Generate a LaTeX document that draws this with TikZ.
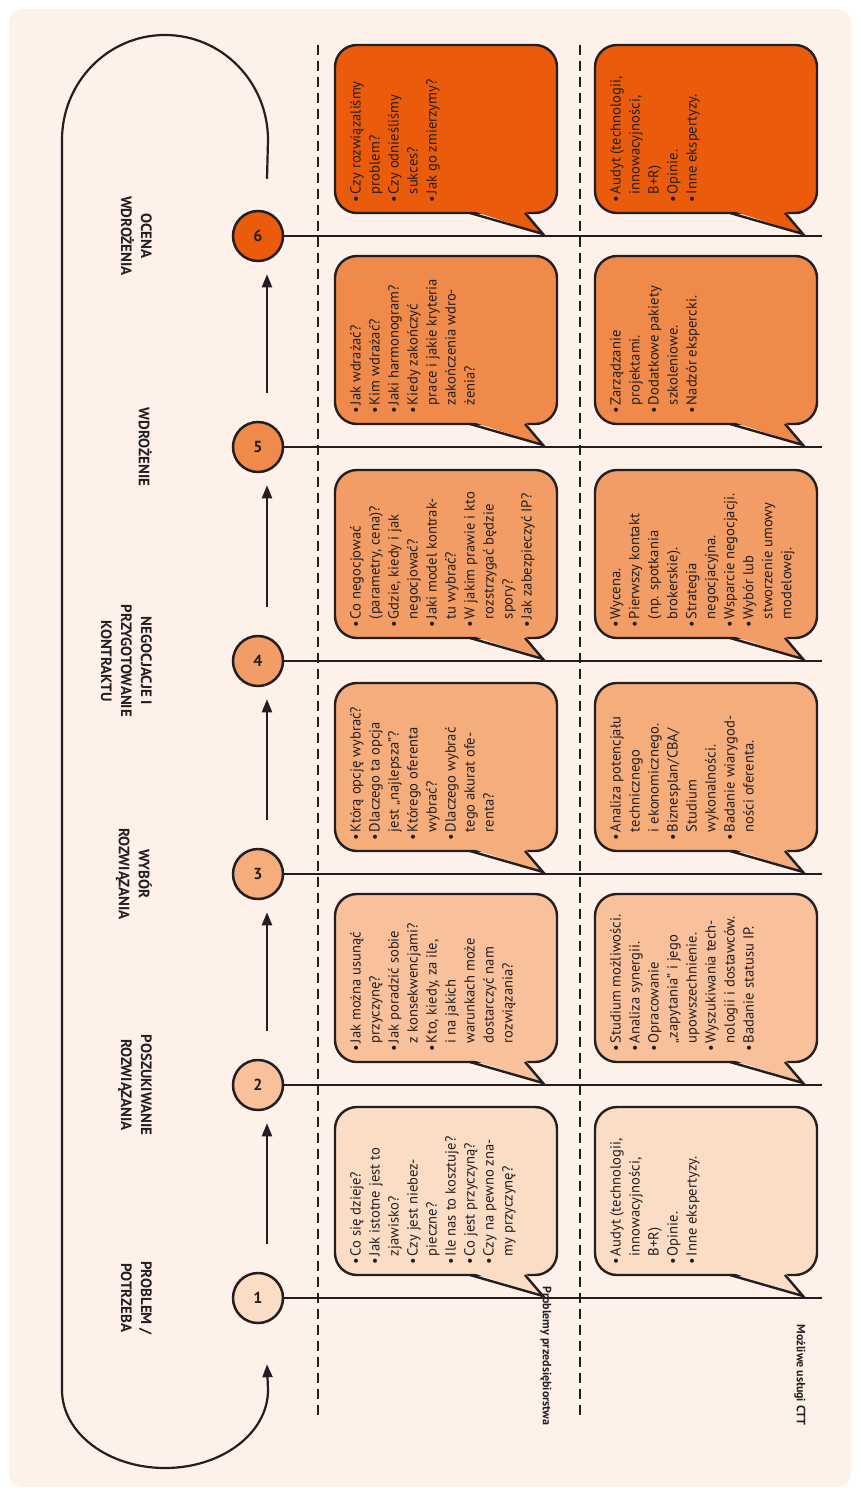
\documentclass[tikz,border=0pt]{standalone}
\usepackage{fontspec}
\setmainfont{PT Sans}
\usetikzlibrary{arrows.meta,calc}
\definecolor{ink}{HTML}{231F20}
\definecolor{cream}{HTML}{FDF1EA}
\definecolor{oa}{HTML}{FBDCC5}
\definecolor{ob}{HTML}{F8C19B}
\definecolor{oc}{HTML}{F5AE7B}
\definecolor{od}{HTML}{F29D65}
\definecolor{oe}{HTML}{EF8A4B}
\definecolor{of}{HTML}{EA5B0C}
\newcommand\bi{\makebox[0.6em][l]{•}}
\newcommand\ci{\hspace*{0.6em}}
\newcommand\mybubble[5]{%
  \pgfmathsetmacro\bubT{#4-191}\pgfmathsetmacro\bubB{#4-23}%
  \pgfmathsetmacro\bubR{#3+222}%
  \pgfmathsetmacro\tailA{#3+135}\pgfmathsetmacro\tailB{#3+190}%
  \pgfmathsetmacro\tailC{#3+208}\pgfmathsetmacro\tailY{#4-2}%
  \draw[bubline, fill=#2, rounded corners=22] (#3,\bubT) rectangle (\bubR,\bubB);
  \fill[#2] (\tailA,\bubB-3) -- (\tailC,\tailY) -- (\tailB,\bubB-3) -- cycle;
  \draw[bubline, line join=miter] (\tailA,\bubB) -- (\tailC,\tailY) -- (\tailB,\bubB);
  \node[btext] (#1) at (#3+15,\bubB-10) {#5};
}
\begin{document}
\begin{tikzpicture}[x=1pt,y=-1pt,
  bubline/.style={draw=ink, line width=2.4pt},
  btext/.style={rotate=90, anchor=north west, align=left, inner sep=0pt,
    font=\fontsize{14.6}{19}\selectfont, text=ink},
  stepc/.style={circle, draw=ink, line width=2.5pt, minimum size=50pt, inner sep=0pt,
    font=\bfseries\fontsize{16}{16}\selectfont, text=ink},
  steplab/.style={rotate=-90, anchor=north, align=center, inner sep=0pt,
    font=\bfseries\fontsize{15}{20}\selectfont, text=ink},
  head/.style={rotate=-90, inner sep=0pt, font=\bfseries\fontsize{12}{14}\selectfont, text=ink},
  hline/.style={draw=ink, line width=2pt},
  dline/.style={draw=ink, line width=2pt, dash pattern=on 10pt off 6pt},
  arr/.style={draw=ink, line width=2.2pt, -{Triangle[length=13pt,width=10pt]}}
]
\useasboundingbox (0,0) rectangle (860,1496);
\fill[white] (0,0) rectangle (860,1496);
\fill[cream, rounded corners=14] (9,9) rectangle (851,1487);

% dashed separators
\draw[dline] (318,45) -- (318,1420);
\draw[dline] (580,45) -- (580,1420);

% column headers
\node[head] (h1) at (546,1356) {Problemy przedsiębiorstwa};
\node[head] (h2) at (800,1375) {Możliwe usługi CTT};

% step circles
\node[stepc, fill=oa] (c1) at (258,1298) {1};
\node[stepc, fill=ob] (c2) at (258,1085) {2};
\node[stepc, fill=oc] (c3) at (258,874) {3};
\node[stepc, fill=od] (c4) at (258,661) {4};
\node[stepc, fill=oe] (c5) at (258,447) {5};
\node[stepc, fill=of] (c6) at (258,236) {6};

% step labels
\node[steplab] (l1) at (152,1298) {PROBLEM /\\POTRZEBA};
\node[steplab] (l2) at (152,1085) {POSZUKIWANIE\\ROZWIĄZANIA};
\node[steplab] (l3) at (152,874) {WYBÓR\\ROZWIĄZANIA};
\node[steplab] (l4) at (152,661) {NEGOCJACJE I\\PRZYGOTOWANIE\\KONTRAKTU};
\node[steplab] (l5) at (152,447) {WDROŻENIE};
\node[steplab] (l6) at (152,236) {OCENA\\WDROŻENIA};

% horizontal lines
\foreach \i/\yy in {1/1298,2/1085,3/874,4/661,5/447,6/236}{
  \coordinate (e\i) at (822,\yy);
  \draw[hline] (c\i) -- (e\i);
}

% arrows between steps
\draw[arr] ($(c1.north)+(9,-28)$) -- ($(c2.south)+(9,12)$);
\draw[arr] ($(c2.north)+(9,-28)$) -- ($(c3.south)+(9,12)$);
\draw[arr] ($(c3.north)+(9,-28)$) -- ($(c4.south)+(9,12)$);
\draw[arr] ($(c4.north)+(9,-28)$) -- ($(c5.south)+(9,12)$);
\draw[arr] ($(c5.north)+(9,-28)$) -- ($(c6.south)+(9,12)$);

% feedback loop
\coordinate (ls) at ($(c6.north)+(9,-31)$);
\coordinate (le) at ($(c1.south)+(9,40)$);
\draw[arr] (ls) -- (268,140) arc[start angle=0, end angle=-180, x radius=103, y radius=105]
  -- (62,1390) arc[start angle=180, end angle=0, x radius=103, y radius=78] -- (le);

% bubbles column 1
\mybubble{p1}{oa}{335}{1298}{\bi Co się dzieje?\\\bi Jak istotne jest to\\\ci zjawisko?\\\bi Czy jest niebez-\\\ci pieczne?\\\bi Ile nas to kosztuje?\\\bi Co jest przyczyną?\\\bi Czy na pewno zna-\\\ci my przyczynę?}
\mybubble{p2}{ob}{335}{1085}{\bi Jak można usunąć\\\ci przyczynę?\\\bi Jak poradzić sobie\\\ci z konsekwencjami?\\\bi Kto, kiedy, za ile,\\\ci i na jakich\\\ci warunkach może\\\ci dostarczyć nam\\\ci rozwiązania?}
\mybubble{p3}{oc}{335}{874}{\bi Którą opcję wybrać?\\\bi Dlaczego ta opcja\\\ci jest „najlepsza”?\\\bi Którego oferenta\\\ci wybrać?\\\bi Dlaczego wybrać\\\ci tego akurat ofe-\\\ci renta?}
\mybubble{p4}{od}{335}{661}{\bi Co negocjować\\\ci (parametry, cena)?\\\bi Gdzie, kiedy i jak\\\ci negocjować?\\\bi Jaki model kontrak-\\\ci tu wybrać?\\\bi W jakim prawie i kto\\\ci rozstrzygać będzie\\\ci spory?\\\bi Jak zabezpieczyć IP?}
\mybubble{p5}{oe}{335}{447}{\bi Jak wdrażać?\\\bi Kim wdrażać?\\\bi Jaki harmonogram?\\\bi Kiedy zakończyć\\\ci prace i jakie kryteria\\\ci zakończenia wdro-\\\ci żenia?}
\mybubble{p6}{of}{335}{236}{\bi Czy rozwiązaliśmy\\\ci problem?\\\bi Czy odnieśliśmy\\\ci sukces?\\\bi Jak go zmierzymy?}

% bubbles column 2
\mybubble{s1}{oa}{595}{1298}{\bi Audyt (technologii,\\\ci innowacyjności,\\\ci B+R)\\\bi Opinie.\\\bi Inne ekspertyzy.}
\mybubble{s2}{ob}{595}{1085}{\bi Studium możliwości.\\\bi Analiza synergii.\\\bi Opracowanie\\\ci „zapytania” i jego\\\ci upowszechnienie.\\\bi Wyszukiwania tech-\\\ci nologii i dostawców.\\\bi Badanie statusu IP.}
\mybubble{s3}{oc}{595}{874}{\bi Analiza potencjału\\\ci technicznego\\\ci i ekonomicznego.\\\bi Biznesplan/CBA/\\\ci Studium\\\ci wykonalności.\\\bi Badanie wiarygod-\\\ci ności oferenta.}
\mybubble{s4}{od}{595}{661}{\bi Wycena.\\\bi Pierwszy kontakt\\\ci (np. spotkania\\\ci brokerskie).\\\bi Strategia\\\ci negocjacyjna.\\\bi Wsparcie negocjacji.\\\bi Wybór lub\\\ci stworzenie umowy\\\ci modelowej.}
\mybubble{s5}{oe}{595}{447}{\bi Zarządzanie\\\ci projektami.\\\bi Dodatkowe pakiety\\\ci szkoleniowe.\\\bi Nadzór ekspercki.}
\mybubble{s6}{of}{595}{236}{\bi Audyt (technologii,\\\ci innowacyjności,\\\ci B+R)\\\bi Opinie.\\\bi Inne ekspertyzy.}
\end{tikzpicture}
\end{document}
